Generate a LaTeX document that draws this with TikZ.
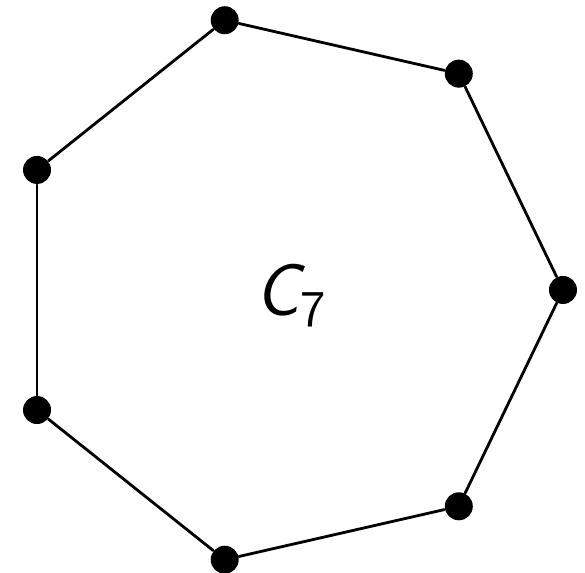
\documentclass[tikz,border=0pt]{standalone}
\usepackage{tikz}
\usetikzlibrary{positioning}
\tikzset{
  vertex/.style={
    circle, fill=black, draw=none,
    minimum size=2.8mm, inner sep=0pt
  },
  cycedge/.style={
    line width=0.8pt, draw=black, line cap=round
  },
  cyclabel/.style={
    font=\sffamily\itshape\fontsize{21}{25}\selectfont, inner sep=0pt
  },
}
\begin{document}
\begin{tikzpicture}[x=1cm, y=1cm]

\useasboundingbox (-2.863, -2.83) rectangle (2.987, 2.90);

% seven vertices on a circle
\foreach \i in {0,...,6} {
  \node[vertex] (v\i) at ({\i*360/7}:2.767) {};
}

% edges of the cycle
\foreach \a/\b in {v0/v1, v1/v2, v2/v3, v3/v4, v4/v5, v5/v6, v6/v0} {
  \draw[cycedge] (\a) -- (\b);
}

\node[cyclabel, anchor=base west] (lbl) at (-0.31, -0.26) {C\textsubscript{\upshape 7}};

\end{tikzpicture}
\end{document}
